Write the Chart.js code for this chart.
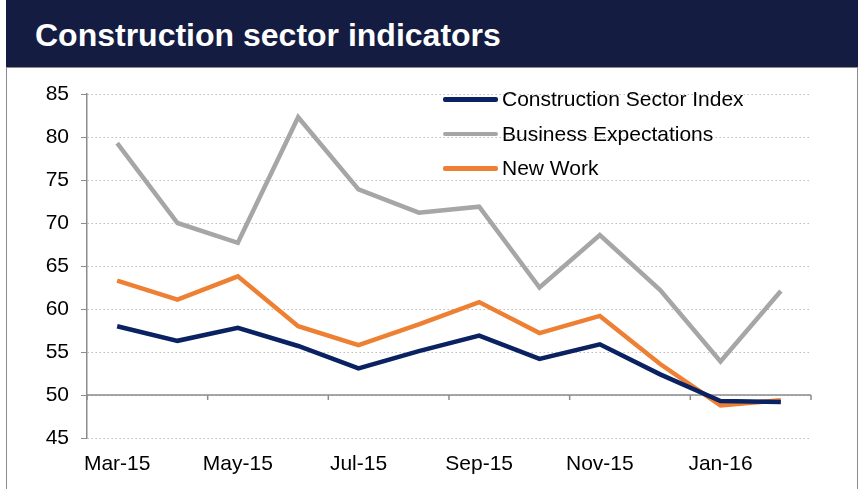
<!DOCTYPE html>
<html>
<head>
<meta charset="utf-8">
<script src="https://cdn.jsdelivr.net/npm/chart.js@4"></script>
<style>
  body { margin: 0; background: #fff; font-family: "Liberation Sans", Arial, sans-serif; }
  #title {
    position: absolute; left: 6px; top: 0; width: 852px; height: 67px;
    background: #141c42; color: #fff; font-weight: bold; font-size: 32px;
    line-height: 71px; box-sizing: border-box; padding-left: 29px;
  }
  #frame {
    position: absolute; left: 6px; top: 67px; width: 852px; height: 430px;
    border: 1.5px solid #8c8c8c; border-bottom: none; box-sizing: border-box;
  }
  #wrap { position: absolute; left: 6px; top: 67px; width: 852px; height: 422px; }
  #legend { position: absolute; left: 443px; top: 82px; font-size: 21px; color: #000; }
  .item { height: 34.5px; display: flex; align-items: center; }
  .item span.sw { display: inline-block; width: 55px; height: 4.5px; border-radius: 2px; margin-right: 4px; }
</style>
</head>
<body>
<div id="title">Construction sector indicators</div>
<div id="frame"></div>
<div id="wrap"><canvas id="chart"></canvas></div>
<div id="legend"></div>
<script>
const months = ['Mar-15', 'Apr-15', 'May-15', 'Jun-15', 'Jul-15', 'Aug-15', 'Sep-15', 'Oct-15', 'Nov-15', 'Dec-15', 'Jan-16', 'Feb-16'];
const constructionIndex = [58.0, 56.3, 57.8, 55.7, 53.1, 55.1, 56.9, 54.2, 55.9, 52.4, 49.3, 49.2];
const businessExpectations = [79.3, 70.0, 67.7, 82.3, 73.9, 71.2, 71.9, 62.5, 68.6, 62.2, 53.9, 62.1];
const newWork = [63.3, 61.1, 63.8, 58.0, 55.8, 58.2, 60.8, 57.2, 59.2, 53.6, 48.8, 49.4];
const yTicks = [45, 50, 55, 60, 65, 70, 75, 80, 85];

const seriesNames = ['Construction Sector Index', 'Business Expectations', 'New Work'];
const seriesColors = ['#0b2262', '#a6a6a6', '#ee8033'];

// x axis line drawn where y = 50, with ticks every two months
const crossAxis = {
  id: 'crossAxis',
  beforeDatasetsDraw(chart) {
    const { ctx, chartArea, scales } = chart;
    const y = scales.y.getPixelForValue(50);
    const step = (chartArea.right - chartArea.left) / months.length;
    ctx.save();
    ctx.strokeStyle = '#8c8c8c';
    ctx.lineWidth = 1.5;
    ctx.beginPath();
    ctx.moveTo(chartArea.left, y);
    ctx.lineTo(chartArea.right, y);
    for (let i = 0; i <= months.length; i += 2) {
      const x = chartArea.left + i * step;
      ctx.moveTo(x, y);
      ctx.lineTo(x, y + 5);
    }
    ctx.stroke();
    ctx.restore();
  }
};

const ctx = document.getElementById('chart').getContext('2d');
const chart = new Chart(ctx, {
  type: 'line',
  data: {
    labels: months,
    datasets: [constructionIndex, businessExpectations, newWork].map((d, i) => ({
      label: seriesNames[i],
      data: d,
      borderColor: seriesColors[i],
      backgroundColor: seriesColors[i],
      borderWidth: 4.5,
      pointRadius: 0,
      tension: 0,
      fill: false
    }))
  },
  options: {
    responsive: true,
    maintainAspectRatio: false,
    animation: false,
    layout: { padding: { top: 27, right: 47, left: 0, bottom: 0 } },
    plugins: { legend: { display: false }, tooltip: { enabled: false } },
    scales: {
      x: {
        offset: true,
        grid: { display: false, drawTicks: false },
        border: { display: false },
        afterFit: s => { s.height = 51; },
        ticks: {
          autoSkip: false,
          maxRotation: 0,
          padding: 14,
          color: '#000',
          font: { family: 'Liberation Sans', size: 21 },
          callback: (v, i) => (i % 2 === 0 ? months[i] : '')
        }
      },
      y: {
        min: 45,
        max: 85,
        afterBuildTicks: s => { s.ticks = yTicks.map(v => ({ value: v })); },
        afterFit: s => { s.width = 81; },
        grid: { color: '#bdbdbd', tickColor: '#8c8c8c', tickLength: 6, tickBorderDash: [] },
        border: { color: '#8c8c8c', width: 1.5, dash: [1.5, 2.5] },
        ticks: {
          padding: 12,
          color: '#000',
          font: { family: 'Liberation Sans', size: 21 }
        }
      }
    }
  },
  plugins: [crossAxis]
});

// legend inside the plot, top right
const legend = document.getElementById('legend');
chart.data.datasets.forEach(ds => {
  const row = document.createElement('div');
  row.className = 'item';
  row.innerHTML = `<span class="sw" style="background:${ds.borderColor}"></span>${ds.label}`;
  legend.appendChild(row);
});
</script>
</body>
</html>
